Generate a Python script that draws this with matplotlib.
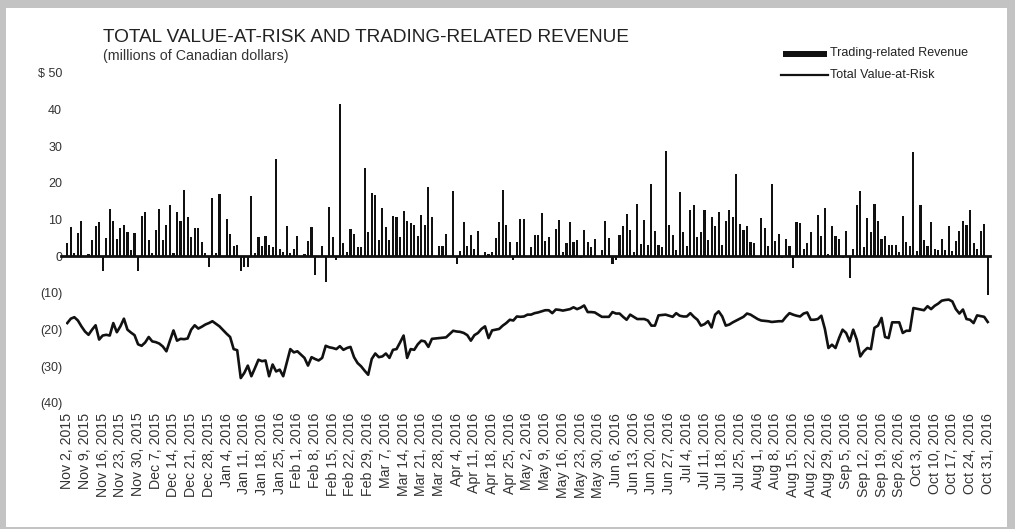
import matplotlib
matplotlib.use("Agg")
import matplotlib.pyplot as plt
from matplotlib.lines import Line2D
from matplotlib.patches import Rectangle
import pandas as pd
import numpy as np

plt.rcParams['font.family'] = ['Liberation Sans', 'DejaVu Sans']

# trading days, Nov 2 2015 .. Oct 31 2016
days = pd.bdate_range("2015-11-02", "2016-10-31")

revenue = [
    3.6, 8.0, 1.0, 6.4, 9.5, 0.0, 0.7, 4.4, 8.4, 9.4,
    -4.0, 5.0, 13.0, 9.7, 4.8, 7.6, 8.5, 6.7, 1.8, 6.4,
    -4.0, 11.0, 12.0, 4.5, 1.0, 7.3, 13.0, 4.4, 8.5, 14.0,
    1.0, 12.0, 9.7, 18.0, 10.6, 5.2, 7.6, 7.7, 3.9, 1.0,
    -3.0, 16.0, 1.0, 17.0, 0.0, 10.3, 6.0, 2.7, 3.2, -4.0,
    -3.0, -3.0, 16.4, 1.0, 5.2, 2.9, 5.5, 3.0, 2.5, 26.6,
    2.0, 1.2, 8.4, 1.0, 2.0, 5.6, 0.2, 0.5, 4.1, 7.9,
    -5.0, 0.0, 2.9, -7.0, 13.4, 5.3, -1.0, 41.6, 3.5, 1.1,
    7.5, 6.2, 2.5, 2.5, 24.0, 6.5, 17.3, 16.6, 4.4, 13.2,
    7.9, 4.5, 11.0, 10.7, 5.3, 12.3, 9.5, 9.1, 8.6, 5.5,
    11.4, 8.6, 19.0, 10.6, 0.0, 2.9, 2.9, 6.1, 0.0, 17.7,
    -2.0, 1.5, 9.4, 2.9, 5.7, 2.0, 6.8, 0.0, 1.1, 0.5,
    1.2, 5.0, 9.4, 18.2, 8.5, 4.0, -1.0, 3.8, 10.3, 10.2,
    0.0, 2.5, 5.9, 5.7, 11.8, 4.1, 5.3, -0.3, 7.5, 10.0,
    1.1, 3.6, 9.3, 3.8, 4.4, -0.5, 7.3, 4.0, 2.5, 4.8,
    0.0, 1.8, 9.7, 5.0, -2.0, -1.0, 5.9, 8.2, 11.5, 7.3,
    1.2, 14.4, 3.4, 9.8, 3.2, 19.7, 6.8, 3.2, 2.5, 28.6,
    8.6, 5.7, 1.6, 17.5, 6.5, 2.9, 12.7, 13.9, 5.2, 6.6,
    12.5, 4.5, 10.6, 8.4, 12.0, 3.2, 9.5, 12.5, 10.6, 22.5,
    8.9, 7.1, 8.4, 4.0, 3.6, 0.0, 10.5, 7.7, 2.9, 19.7,
    4.1, 6.1, -0.5, 4.8, 2.9, -3.3, 9.4, 9.1, 2.1, 3.6,
    6.6, 0.0, 11.4, 5.5, 13.2, 0.5, 8.2, 5.6, 4.7, -0.5,
    6.8, -6.0, 2.0, 13.9, 17.7, 2.5, 10.5, 6.6, 14.4, 9.7,
    4.7, 5.5, 3.2, 3.2, 3.2, 1.1, 11.1, 3.9, 2.7, 28.5,
    1.5, 14.1, 4.4, 2.7, 9.4, 2.0, 1.6, 4.8, 1.6, 8.4,
    1.5, 4.3, 7.0, 9.5, 8.6, 12.7, 3.6, 2.1, 6.8, 8.8,
    -10.5,
]

var = [
    -18.2, -17.0, -16.6, -17.5, -19.1, -20.5, -21.4, -20.0, -18.8, -22.7,
    -21.6, -21.4, -21.6, -18.2, -20.7, -19.1, -17.0, -20.0, -20.8, -21.5,
    -24.0, -24.4, -23.5, -22.0, -23.2, -23.4, -23.8, -24.6, -25.9, -23.0,
    -20.2, -23.0, -22.5, -22.6, -22.4, -20.0, -18.8, -19.7, -19.2, -18.6,
    -18.2, -17.7, -18.4, -19.1, -20.1, -21.1, -22.0, -25.3, -25.6, -33.2,
    -31.8, -29.8, -32.7, -30.5, -28.2, -28.6, -28.4, -32.7, -29.5, -31.4,
    -30.9, -32.7, -29.0, -25.3, -26.2, -25.9, -26.8, -27.7, -29.8, -27.5,
    -28.0, -28.4, -27.7, -24.4, -24.8, -25.0, -25.3, -24.5, -25.5, -25.0,
    -24.7, -27.5, -29.1, -30.0, -31.2, -32.3, -28.0, -26.5, -27.5, -27.3,
    -26.5, -27.7, -25.5, -25.3, -23.5, -21.6, -27.7, -25.3, -25.5, -24.0,
    -23.0, -23.2, -24.7, -22.5, -22.4, -22.3, -22.2, -22.1, -21.2, -20.3,
    -20.5, -20.6, -20.9, -21.5, -23.0, -21.5, -20.9, -19.8, -19.1, -22.3,
    -20.2, -20.0, -19.8, -18.9, -18.2, -17.3, -17.5, -16.4, -16.5, -16.4,
    -15.9, -15.9, -15.5, -15.3, -15.0, -14.7, -14.7, -15.5, -14.5, -14.6,
    -14.8, -14.6, -14.4, -13.9, -14.4, -14.0, -13.4, -15.2, -15.2, -15.3,
    -15.9, -16.5, -16.5, -16.5, -15.2, -15.6, -15.6, -16.5, -17.3, -15.9,
    -16.5, -17.1, -17.1, -17.1, -17.5, -18.9, -18.9, -16.1, -16.0, -15.9,
    -16.2, -16.5, -15.5, -16.2, -16.4, -16.4, -15.5, -16.5, -17.3, -18.9,
    -18.5, -17.7, -19.4, -15.9, -15.0, -16.4, -18.9, -18.6, -18.0, -17.5,
    -17.0, -16.5, -15.6, -15.9, -16.5, -17.1, -17.5, -17.6, -17.7, -17.9,
    -17.8, -17.7, -17.7, -16.5, -15.5, -15.9, -16.2, -16.4, -15.6, -15.3,
    -17.3, -17.3, -17.1, -16.2, -19.8, -25.0, -24.1, -25.0, -22.3, -20.0,
    -20.9, -23.2, -20.0, -22.7, -27.3, -25.9, -25.0, -25.3, -19.5, -18.9,
    -16.8, -22.0, -22.3, -18.0, -18.0, -18.0, -20.9, -20.3, -20.3, -14.1,
    -14.3, -14.5, -14.7, -13.6, -14.4, -13.5, -12.9, -12.1, -11.9, -11.8,
    -12.3, -14.4, -15.6, -14.5, -17.1, -17.3, -18.2, -16.1, -16.3, -16.5,
    -17.9,
]

y_ticks = [50, 40, 30, 20, 10, 0, -10, -20, -30, -40]
y_labels = ["$ 50", "40", "30", "20", "10", "0", "(10)", "(20)", "(30)", "(40)"]

x = np.arange(len(days))
week_pos = x[::5]
week_labels = [f"{d.strftime('%b')} {d.day}, {d.year}" for d in days[::5]]

W, H = 1015, 529
fig = plt.figure(figsize=(W / 100, H / 100), dpi=100)
fig.patch.set_facecolor("white")

# grey frame around the page
grey = "#c3c3c3"
fig.add_artist(Rectangle((0, 1 - 8 / H), 1, 8 / H, transform=fig.transFigure, color=grey, lw=0))
fig.add_artist(Rectangle((0, 0), 6 / W, 1, transform=fig.transFigure, color=grey, lw=0))
fig.add_artist(Rectangle((1 - 8 / W, 0), 8 / W, 1, transform=fig.transFigure, color=grey, lw=0))
fig.add_artist(Rectangle((0, 0), 1, 2 / H, transform=fig.transFigure, color=grey, lw=0))

left, right = 65.5 / W, 989.5 / W
top, bottom = 1 - 73 / H, 1 - 403 / H
ax = fig.add_axes([left, bottom, right - left, top - bottom])

ax.bar(x, revenue, width=0.6, color="#111111", linewidth=0)
ax.plot(x, var, color="#111111", linewidth=1.9)
ax.axhline(0, color="#111111", linewidth=2.0, xmin=-0.005, xmax=1.0, clip_on=False)

ax.set_xlim(-0.5, len(days) - 0.5)
ax.set_ylim(-40, 50)
ax.set_yticks(y_ticks)
ax.set_yticklabels(y_labels, fontsize=9, color="#333333")
ax.set_xticks(week_pos)
ax.set_xticklabels(week_labels, rotation=90, fontsize=10.2, color="#333333")
ax.tick_params(length=0, axis="y", pad=2.5)
ax.tick_params(length=0, axis="x", pad=7)
for s in ax.spines.values():
    s.set_visible(False)
ax.patch.set_alpha(0)

fig.text(103 / W, 1 - 37 / H, "TOTAL VALUE-AT-RISK AND TRADING-RELATED REVENUE",
         fontsize=13.7, color="#222222", va="center", ha="left")
fig.text(103 / W, 1 - 56 / H, "(millions of Canadian dollars)",
         fontsize=10.3, color="#333333", va="center", ha="left")

# legend, drawn by hand
fig.add_artist(Rectangle((783 / W, 1 - 57 / H), 44 / W, 6 / H, transform=fig.transFigure,
                         color="#111111", lw=0))
fig.text(830 / W, 1 - 53 / H, "Trading-related Revenue", fontsize=9, color="#222222", va="center")
fig.add_artist(Line2D([781 / W, 828 / W], [1 - 75 / H, 1 - 75 / H], transform=fig.transFigure,
                      color="#111111", linewidth=1.6))
fig.text(830 / W, 1 - 75 / H, "Total Value-at-Risk", fontsize=9, color="#222222", va="center")

fig.savefig("out.png", dpi=100)
